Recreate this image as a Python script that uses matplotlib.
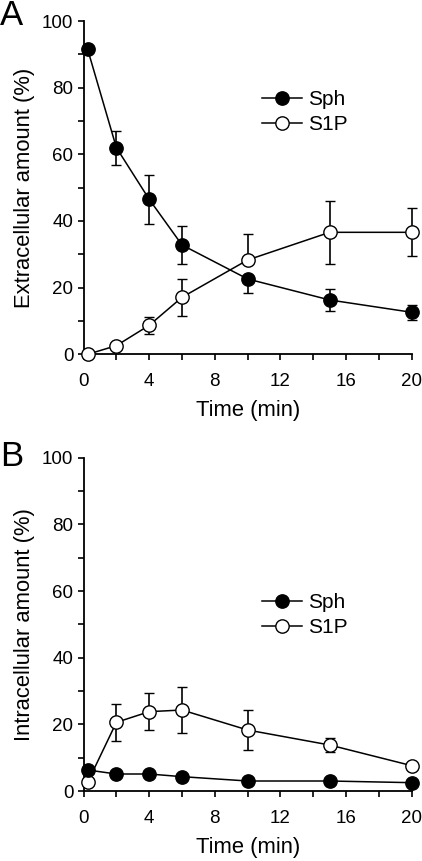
import matplotlib
matplotlib.use("Agg")
import matplotlib.pyplot as plt
from matplotlib.ticker import MultipleLocator

plt.rcParams['font.family'] = ['Liberation Sans', 'DejaVu Sans']

time = [0.25, 2, 4, 6, 10, 15, 20]

# Panel A: extracellular
sph_a = [91.5, 62.0, 46.5, 32.8, 22.6, 16.3, 12.6]
sph_a_lo = [0, 5.1, 7.4, 5.6, 4.1, 3.2, 2.2]
sph_a_hi = [0, 5.1, 7.4, 5.6, 0, 3.2, 2.2]
s1p_a = [0.0, 2.6, 8.7, 17.1, 28.3, 36.6, 36.6]
s1p_a_lo = [0, 0, 2.5, 5.5, 0, 9.5, 7.2]
s1p_a_hi = [0, 0, 2.5, 5.5, 7.8, 9.5, 7.2]

# Panel B: intracellular
sph_b = [6.3, 5.1, 5.1, 4.3, 3.0, 3.0, 2.5]
s1p_b = [2.6, 20.6, 23.8, 24.3, 18.3, 13.8, 7.6]
s1p_b_err = [0, 5.6, 5.5, 7.0, 6.0, 2.2, 0]

xticks = [0, 4, 8, 12, 16, 20]
yticks = [0, 20, 40, 60, 80, 100]

fig = plt.figure(figsize=(4.22, 8.61), dpi=100)
axA = fig.add_axes([0.198, 0.5885, 0.7777, 0.3871])
axB = fig.add_axes([0.198, 0.0813, 0.7777, 0.3871])

ms = 9.6
lw = 1.1
cap = 3.6

def style(ax, ylabel, panel, py):
    ax.set_xlim(0, 20)
    ax.set_ylim(0, 100)
    ax.set_xticks(xticks)
    ax.set_yticks(yticks)
    ax.xaxis.set_minor_locator(MultipleLocator(2))
    ax.yaxis.set_minor_locator(MultipleLocator(10))
    for s in ['top', 'right']:
        ax.spines[s].set_visible(False)
    for s in ['left', 'bottom']:
        ax.spines[s].set_linewidth(1.3)
    ax.tick_params(which='both', direction='out', length=4.3, width=1.2,
                   labelsize=13.5)
    ax.tick_params(axis='y', pad=3)
    ax.tick_params(axis='x', pad=9.5)
    ax.set_xlabel('Time (min)', fontsize=15.8, labelpad=7)
    ax.set_ylabel(ylabel, fontsize=15.8, labelpad=5)
    ax.text(-0.254, py, panel, transform=ax.transAxes, fontsize=25,
            ha='left', va='center')

# Panel A
axA.errorbar(time, s1p_a, yerr=[s1p_a_lo, s1p_a_hi], color='black', lw=lw,
             marker='o', ms=ms, mfc='white', mec='black', mew=1.0,
             capsize=cap, elinewidth=1.2, capthick=1.2, clip_on=False,
             label='S1P', zorder=3)
axA.errorbar(time, sph_a, yerr=[sph_a_lo, sph_a_hi], color='black', lw=lw,
             marker='o', ms=ms, mfc='black', mec='black', mew=1.0,
             capsize=cap, elinewidth=1.2, capthick=1.2, clip_on=False,
             label='Sph', zorder=4)
style(axA, 'Extracellular amount (%)', 'A', 1.018)

# Panel B
axB.errorbar(time, s1p_b, yerr=s1p_b_err, color='black', lw=lw,
             marker='o', ms=ms, mfc='white', mec='black', mew=1.0,
             capsize=cap, elinewidth=1.2, capthick=1.2, clip_on=False,
             label='S1P', zorder=3)
axB.errorbar(time, sph_b, color='black', lw=lw,
             marker='o', ms=ms, mfc='black', mec='black', mew=1.0,
             clip_on=False, label='Sph', zorder=4)
style(axB, 'Intracellular amount (%)', 'B', 1.005)

for ax, anchor in [(axA, (0.544, 0.727)), (axB, (0.544, 0.527))]:
    h, l = ax.get_legend_handles_labels()
    h = [hh[0] for hh in h]
    ax.legend(h[::-1], l[::-1], loc='center left', bbox_to_anchor=anchor,
              frameon=False, fontsize=15, handlelength=1.9,
              handletextpad=0.3, labelspacing=0.3, borderaxespad=0,
              borderpad=0)

fig.savefig('out.png', dpi=100)
